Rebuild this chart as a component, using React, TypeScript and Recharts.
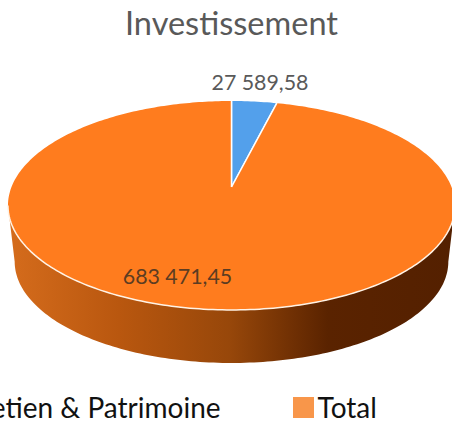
import React from 'react';
import { PieChart, Pie, Legend } from 'recharts';

const categories = ['Entretien & Patrimoine', 'Total'];
const values = [27589.58, 683471.45];
const sliceColors = ['#53A0EB', '#FF7C1E'];
const legendColors = ['#5B9BD5', '#F8964A'];
const chartTitle = 'Investissement';

const chartData = categories.map((name, i) => ({ name, value: values[i], fill: sliceColors[i] }));

// tilt of the fake 3D disc
const PERSPECTIVE = 0.177;
const SQUASH = 0.46;
const WALL_DROP = 56.7;
const WALL_SCALE = 0.97;
const FRONT_FROM = 100.2;
const FRONT_TO = 259.8;

const FONT = 'Lato, sans-serif';
const formatValue = (v: number) =>
  v.toLocaleString('fr-FR', { minimumFractionDigits: 2, maximumFractionDigits: 2 });

// theta is clockwise from 12 o'clock, in degrees
function project(cx: number, cy: number, r: number, theta: number, scale = 1, drop = 0) {
  const t = (theta * Math.PI) / 180;
  const w = 1 + PERSPECTIVE * Math.cos(t);
  return {
    x: cx + (scale * r * Math.sin(t)) / w,
    y: cy + drop - (scale * r * SQUASH * Math.cos(t)) / w,
  };
}

function arcPoints(cx: number, cy: number, r: number, from: number, to: number, scale = 1, drop = 0) {
  const steps = Math.max(2, Math.ceil(Math.abs(to - from)));
  const pts: string[] = [];
  for (let i = 0; i <= steps; i++) {
    const p = project(cx, cy, r, from + ((to - from) * i) / steps, scale, drop);
    pts.push(`${p.x.toFixed(2)} ${p.y.toFixed(2)}`);
  }
  return pts;
}

function DiscSlice(props: any) {
  const { cx, cy, outerRadius, startAngle, endAngle, fill } = props;
  const from = 90 - startAngle;
  const to = 90 - endAngle;
  const top = arcPoints(cx, cy, outerRadius, from, to);
  const frontFrom = Math.max(from, FRONT_FROM);
  const frontTo = Math.min(to, FRONT_TO);
  const hasWall = frontTo > frontFrom;
  const rim = hasWall ? arcPoints(cx, cy, outerRadius, frontFrom, frontTo) : [];
  const base = hasWall
    ? arcPoints(cx, cy, outerRadius, frontTo, frontFrom, WALL_SCALE, WALL_DROP)
    : [];

  return (
    <g>
      {hasWall && <path d={`M${rim.join('L')}L${base.join('L')}Z`} fill="url(#wallShade)" />}
      <path d={`M${cx} ${cy}L${top.join('L')}Z`} fill={fill} stroke="none" />
      <path d={`M${cx} ${cy}L${arcPoints(cx, cy, outerRadius, from, from + 0.01)[0]}`} stroke="#fff" strokeWidth={1.5} />
      <path d={`M${cx} ${cy}L${arcPoints(cx, cy, outerRadius, to, to + 0.01)[0]}`} stroke="#fff" strokeWidth={1.5} />
      {hasWall && <path d={`M${rim.join('L')}`} fill="none" stroke="#FFF3E6" strokeWidth={1.5} />}
    </g>
  );
}

const labelSpots = [
  { dx: 28.5, dy: -105 },
  { dx: -54, dy: 89 },
];

function SliceLabel(props: any) {
  const { cx, cy, index, value } = props;
  const spot = labelSpots[index];
  return (
    <text
      x={cx + spot.dx}
      y={cy + spot.dy}
      textAnchor="middle"
      dominantBaseline="central"
      fontFamily={FONT}
      fontSize={21.4}
      fill={index === 0 ? '#595959' : '#5C3C22'}
    >
      {formatValue(value)}
    </text>
  );
}

function LegendRow({ payload }: any) {
  return (
    <div style={{ display: 'flex', alignItems: 'center', fontFamily: FONT, fontSize: 28, color: '#111', whiteSpace: 'nowrap' }}>
      {(payload || []).map((entry: any, i: number) => (
        <div key={entry.value} style={{ display: 'flex', alignItems: 'center', marginRight: 72 }}>
          <span style={{ width: 21, height: 21, background: legendColors[i], marginRight: 4 }} />
          <span>{entry.value}</span>
        </div>
      ))}
    </div>
  );
}

export default function App() {
  return (
    <div style={{ position: 'absolute', left: 0, top: 0, width: 452, height: 421, overflow: 'hidden', background: '#fff' }}>
      <div style={{ position: 'absolute', left: 0, width: 463, top: 3, textAlign: 'center', fontFamily: FONT, fontSize: 32.5, color: '#595959' }}>
        {chartTitle}
      </div>
      <PieChart width={452} height={421} margin={{ top: 0, right: 0, bottom: 0, left: 0 }}>
        <defs>
          <linearGradient id="wallShade" gradientUnits="userSpaceOnUse" x1={8} y1={0} x2={452} y2={0}>
            <stop offset="0%" stopColor="#D56C1C" />
            <stop offset="25%" stopColor="#B9570F" />
            <stop offset="50%" stopColor="#97470A" />
            <stop offset="72%" stopColor="#5A2300" />
            <stop offset="100%" stopColor="#542000" />
          </linearGradient>
        </defs>
        <Pie
          data={chartData}
          dataKey="value"
          nameKey="name"
          cx={231.5}
          cy={187}
          innerRadius={0}
          outerRadius={220}
          startAngle={90}
          endAngle={-270}
          paddingAngle={0}
          stroke="none"
          shape={DiscSlice}
          label={SliceLabel}
          labelLine={false}
          isAnimationActive={false}
        />
        <Legend
          content={LegendRow}
          wrapperStyle={{ position: 'absolute', left: -85, top: 390, width: 560, bottom: 'auto' }}
        />
      </PieChart>
    </div>
  );
}
